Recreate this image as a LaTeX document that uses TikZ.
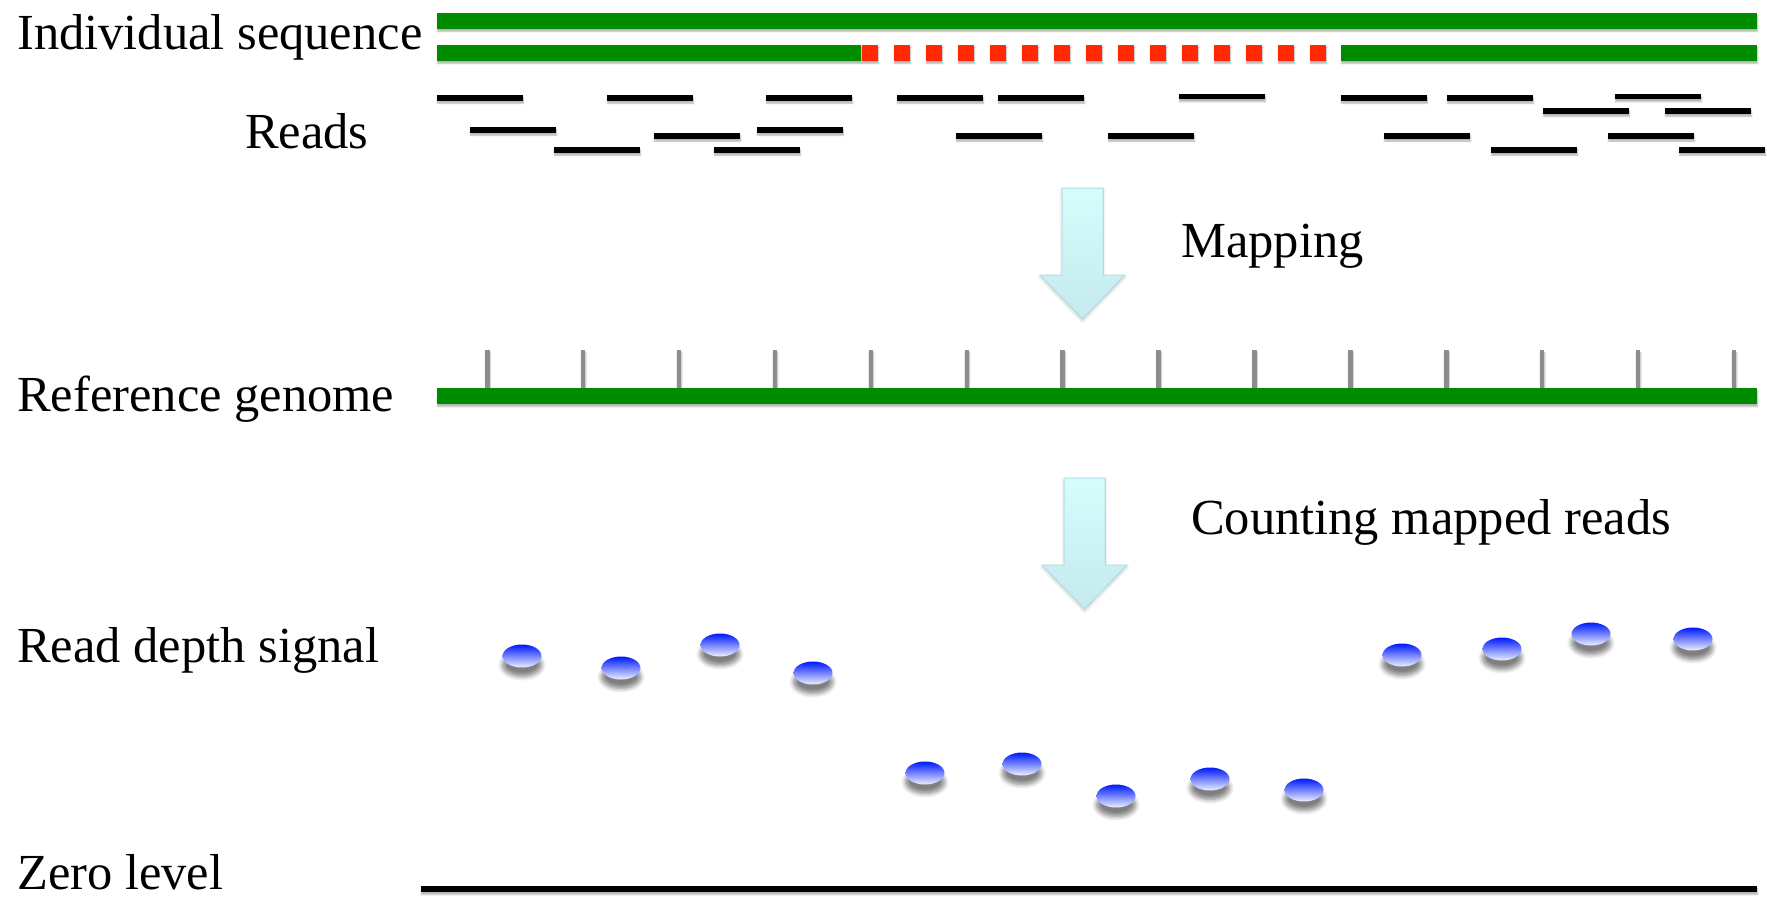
\documentclass[tikz,border=0pt]{standalone}
\usepackage{fontspec}
\setmainfont{Liberation Serif}
\usetikzlibrary{shadows,shadows.blur,shapes.geometric}
\definecolor{gbar}{RGB}{0,140,0}
\definecolor{rsq}{RGB}{255,40,0}
\definecolor{tickgray}{RGB}{140,140,140}
\definecolor{arrtop}{RGB}{214,252,252}
\definecolor{arrbot}{RGB}{196,234,238}
\definecolor{arredge}{RGB}{178,224,228}
\definecolor{dotblue}{RGB}{0,25,255}
\definecolor{dotlight}{RGB}{236,240,255}
\begin{document}
\begin{tikzpicture}[x=1pt,y=-1pt,
  lbl/.style={anchor=base west, inner sep=0pt, font=\fontsize{50.5}{60}\selectfont},
  gshadow/.style={blur shadow={shadow xshift=0.5pt, shadow yshift=-2.5pt, shadow opacity=30, shadow blur radius=1.5pt, shadow blur steps=4}},
  bar/.style={fill=gbar, gshadow},
  redsq/.style={fill=rsq, gshadow},
  readbar/.style={fill=black, gshadow},
  tickbar/.style={fill=tickgray, gshadow},
  blockarrow/.style={top color=arrtop, bottom color=arrbot, draw=arredge, line width=1pt,
    blur shadow={shadow xshift=0pt, shadow yshift=-2pt, shadow opacity=20, shadow blur radius=3pt, shadow blur steps=5}},
  dot/.style={ellipse, minimum width=39pt, minimum height=23pt, inner sep=0pt,
    top color=dotblue, bottom color=dotlight,
    blur shadow={shadow xshift=0pt, shadow yshift=-9pt, shadow opacity=50, shadow blur radius=4.5pt, shadow blur steps=6}}
]
\useasboundingbox (0,0) rectangle (1767,897);

% labels
\node[lbl] (lindiv) at (17,49) {Individual sequence};
\node[lbl] (lreads) at (245,148) {Reads};
\node[lbl] (lmap) at (1181,257) {Mapping};
\node[lbl] (lref) at (17,411) {Reference genome};
\node[lbl] (lcount) at (1191,534) {Counting mapped reads};
\node[lbl] (ldepth) at (17,662) {Read depth signal};
\node[lbl] (lzero) at (17,889) {Zero level};

% individual sequence
\fill[bar] (437,13) rectangle (1757,29);
\fill[bar] (437,45) rectangle (861,61);
\foreach \i in {0,...,14} \fill[redsq] ({862+32*\i},45) rectangle ++(16,16);
\fill[bar] (1341,45) rectangle (1757,61);

% reads
\foreach \x/\y in {437/98, 607/98, 766/98, 897/98, 998/98, 1179/96.5, 1341/98, 1447/98, 1615/96.5,
  1543/111, 1665/111,
  470/130, 757/130,
  654/136, 956/136, 1108/136, 1384/136, 1608/136,
  554/150, 714/150, 1491/150, 1679/150}
  \fill[readbar] (\x,\y-2.75) rectangle ++(86,5.5);

% arrows
\filldraw[blockarrow] (1062,188) -- (1103,188) -- (1103,275) -- (1125,275) -- (1082.5,319)
  -- (1040,275) -- (1062,275) -- cycle;
\filldraw[blockarrow] (1064,478) -- (1105,478) -- (1105,565) -- (1127,565) -- (1084.5,609)
  -- (1042,565) -- (1064,565) -- cycle;

% reference genome
\foreach \i in {0,...,13} \fill[tickbar] ({485+95.9*\i},350) rectangle ++(4.5,38);
\fill[bar] (437,388) rectangle (1757,404);

% read depth dots
\foreach \n/\x/\y in {d1/522/656, d2/621/668, d3/720/645, d4/813/673,
  d5/925/773, d6/1022/764, d7/1116/796, d8/1210/779, d9/1304/790,
  d10/1402/655, d11/1502/649, d12/1591/634, d13/1693/639}
  \node[dot] (\n) at (\x,\y) {};

% zero level
\fill[readbar] (421,886) rectangle (1757,892);
\end{tikzpicture}
\end{document}
